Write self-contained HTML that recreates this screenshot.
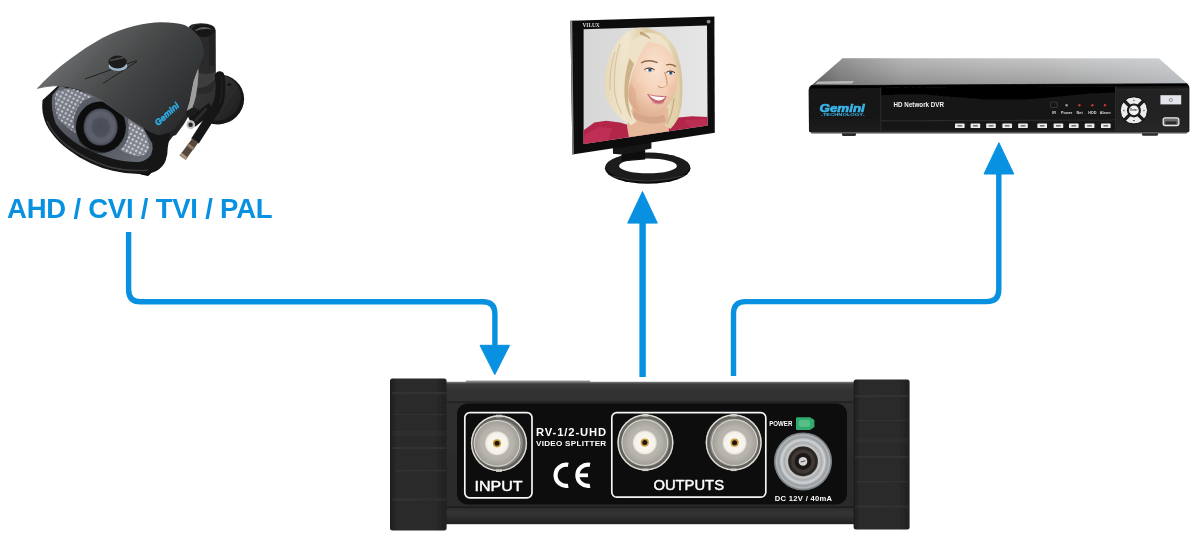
<!DOCTYPE html>
<html>
<head>
<meta charset="utf-8">
<title>RV-1/2-UHD video splitter connection diagram</title>
<style>
  html, body { margin: 0; padding: 0; background: #ffffff; }
  body { width: 1200px; height: 547px; overflow: hidden; font-family: "Liberation Sans", sans-serif; }
  svg { display: block; position: absolute; left: 0; top: 0; will-change: transform; }
  text { font-family: "Liberation Sans", sans-serif; }
</style>
</head>
<body>
<svg width="1200" height="547" viewBox="0 0 1200 547">
  <defs>

    <linearGradient id="capL" x1="0" y1="0" x2="1" y2="0">
      <stop offset="0" stop-color="#1c1c1c"/><stop offset="0.12" stop-color="#2b2b2b"/><stop offset="0.8" stop-color="#2a2a2a"/><stop offset="1" stop-color="#202020"/>
    </linearGradient>
    <linearGradient id="bodyG" x1="0" y1="0" x2="0" y2="1">
      <stop offset="0" stop-color="#3f3f3f"/><stop offset="0.05" stop-color="#333333"/><stop offset="0.14" stop-color="#2f2f2f"/><stop offset="0.86" stop-color="#2a2a2a"/><stop offset="0.93" stop-color="#333333"/><stop offset="1" stop-color="#202020"/>
    </linearGradient>
    <radialGradient id="bncOuter" cx="0.5" cy="0.5" r="0.5">
      <stop offset="0" stop-color="#b9b6ae"/><stop offset="0.55" stop-color="#a9a69d"/><stop offset="0.72" stop-color="#c9c7c0"/><stop offset="0.86" stop-color="#8e8b84"/><stop offset="0.95" stop-color="#d3d1ca"/><stop offset="1" stop-color="#6b6964"/>
    </radialGradient>
    <radialGradient id="bncMid" cx="0.5" cy="0.5" r="0.5">
      <stop offset="0" stop-color="#bfbcb5"/><stop offset="0.7" stop-color="#b7b4ad"/><stop offset="1" stop-color="#a29f98"/>
    </radialGradient>
    <radialGradient id="bncWhite" cx="0.5" cy="0.5" r="0.5">
      <stop offset="0" stop-color="#fbf9f3"/><stop offset="0.85" stop-color="#f5f2ea"/><stop offset="1" stop-color="#d9d6cd"/>
    </radialGradient>
    <radialGradient id="dcOuter" cx="0.5" cy="0.5" r="0.5">
      <stop offset="0" stop-color="#808080"/><stop offset="0.5" stop-color="#909090"/><stop offset="0.56" stop-color="#c9c9c9"/><stop offset="0.66" stop-color="#a9acae"/><stop offset="0.76" stop-color="#d2d4d6"/><stop offset="0.86" stop-color="#979c9f"/><stop offset="0.94" stop-color="#b2b7ba"/><stop offset="1" stop-color="#6f7579"/>
    </radialGradient>
    <g id="bncO">
      <circle r="28.2" fill="#8b8983"/>
      <circle r="27.3" fill="none" stroke="#e2e0da" stroke-width="1.3"/>
      <circle r="25.2" fill="none" stroke="#5b5955" stroke-width="2.6" opacity="0.85"/>
      <rect x="-3" y="-28.6" width="6" height="2.6" fill="#cfcdc6"/>
      <rect x="-3" y="26" width="6" height="2.6" fill="#cfcdc6"/>
    </g>
    <g id="bncI">
      <circle r="23.4" fill="#dad8d1"/>
      <circle r="22.4" fill="url(#bncMid)"/>
      <circle r="12" fill="url(#bncWhite)"/>
      <circle r="4.1" fill="#c79c3c"/>
      <circle r="2.5" fill="#24190a"/>
    </g>

    <linearGradient id="hoodG" gradientUnits="userSpaceOnUse" x1="78" y1="30" x2="188" y2="128">
      <stop offset="0" stop-color="#6e7071"/><stop offset="0.22" stop-color="#57595a"/><stop offset="0.45" stop-color="#454748"/><stop offset="0.7" stop-color="#37393a"/><stop offset="1" stop-color="#28292a"/>
    </linearGradient>
    <radialGradient id="lensG" cx="0.5" cy="0.5" r="0.5">
      <stop offset="0" stop-color="#4c505a"/><stop offset="0.45" stop-color="#565a65"/><stop offset="0.8" stop-color="#5e626d"/><stop offset="1" stop-color="#454852"/>
    </radialGradient>
    <linearGradient id="faceG" x1="0" y1="0" x2="1" y2="1">
      <stop offset="0" stop-color="#6a6e78"/><stop offset="0.5" stop-color="#4c4f58"/><stop offset="1" stop-color="#6b6f79"/>
    </linearGradient>
    <linearGradient id="baseG" x1="0" y1="0" x2="1" y2="1">
      <stop offset="0" stop-color="#3c3c3c"/><stop offset="0.6" stop-color="#2c2c2c"/><stop offset="1" stop-color="#1b1b1b"/>
    </linearGradient>
    <pattern id="ledP" width="4.2" height="4.2" patternUnits="userSpaceOnUse" patternTransform="rotate(28)">
      <circle cx="2.1" cy="2.1" r="1.25" fill="#d9dce4"/>
    </pattern>

    <clipPath id="scrClip"><path d="M583.6 29.2 L707 25.6 L707.6 125.4 L583.6 144 Z"/></clipPath>
    <linearGradient id="hairG" x1="0" y1="0" x2="1" y2="0">
      <stop offset="0" stop-color="#e6d9bb"/><stop offset="0.3" stop-color="#f1e7d0"/><stop offset="0.55" stop-color="#d9c6a0"/><stop offset="0.8" stop-color="#e7d9b8"/><stop offset="1" stop-color="#d6c29c"/>
    </linearGradient>
    <radialGradient id="faceRG" cx="0.55" cy="0.35" r="0.7">
      <stop offset="0" stop-color="#fae4d2"/><stop offset="0.55" stop-color="#f3cfb5"/><stop offset="1" stop-color="#dcab8b"/>
    </radialGradient>
    <linearGradient id="scrBg" x1="0" y1="0" x2="1" y2="0">
      <stop offset="0" stop-color="#d6d6d6"/><stop offset="1" stop-color="#e6e6e6"/>
    </linearGradient>

    <linearGradient id="dvrTop" x1="0" y1="0" x2="0" y2="1">
      <stop offset="0" stop-color="#c8c8c8"/><stop offset="0.45" stop-color="#b2b2b2"/><stop offset="0.82" stop-color="#9e9e9e"/><stop offset="0.9" stop-color="#7a7a7a"/><stop offset="0.95" stop-color="#3a3a3a"/><stop offset="1" stop-color="#161616"/>
    </linearGradient>
    <linearGradient id="dvrTopL" x1="0" y1="0" x2="1" y2="0">
      <stop offset="0" stop-color="#202020" stop-opacity="0.52"/><stop offset="0.08" stop-color="#2a2a2a" stop-opacity="0.34"/><stop offset="0.25" stop-color="#333" stop-opacity="0.12"/><stop offset="0.5" stop-color="#444" stop-opacity="0.04"/><stop offset="0.7" stop-color="#d0d6dc" stop-opacity="0.1"/><stop offset="1" stop-color="#d4dae0" stop-opacity="0.5"/>
    </linearGradient>
    <linearGradient id="dvrFront" x1="0" y1="0" x2="0" y2="1">
      <stop offset="0" stop-color="#1a1a1a"/><stop offset="0.2" stop-color="#111111"/><stop offset="0.9" stop-color="#141414"/><stop offset="1" stop-color="#2a2a2a"/>
    </linearGradient>
    <linearGradient id="dvrGloss" x1="0" y1="0" x2="0" y2="1">
      <stop offset="0" stop-color="#050505"/><stop offset="1" stop-color="#0e0e0e"/>
    </linearGradient>
    <g id="dbtn"><rect width="9.6" height="4.4" rx="0.6" fill="#ececec"/><rect x="2.4" y="1.6" width="4.8" height="1.3" fill="#555"/></g>

    <filter id="soft" x="-5%" y="-5%" width="110%" height="110%"><feGaussianBlur stdDeviation="0.5"/></filter>
    <filter id="soft2" x="-5%" y="-5%" width="110%" height="110%"><feGaussianBlur stdDeviation="0.35"/></filter>
    <!-- DEFS -->
  </defs>
  <rect x="0" y="0" width="1200" height="547" fill="#ffffff"/>

  <!-- ============ CONNECTION LINES ============ -->
  <g id="lines" fill="none" stroke="#0791e0" stroke-width="5.4" stroke-linejoin="round">
    <!-- camera -> input -->
    <path d="M128.6 232 V289.7 Q128.6 301.8 140.7 301.8 H482.8 Q494.9 301.8 494.9 313.9 V346"/>
    <!-- output 1 -> monitor -->
    <path d="M642.6 377 V222" stroke-width="6.4"/>
    <!-- output 2 -> DVR -->
    <path d="M733.5 376 V313.7 Q733.5 301.6 745.6 301.6 H986.7 Q998.8 301.6 998.8 289.5 V173"/>
  </g>
  <g id="arrowheads" fill="#0791e0" stroke="#0791e0" stroke-width="1" stroke-linejoin="round">
    <path d="M480 345.3 H509.6 L494.8 374.6 Z"/>
    <path d="M627.7 223.1 H657.3 L642.5 191.6 Z"/>
    <path d="M984 174 H1013.8 L998.9 142.7 Z"/>
  </g>

  <!-- ============ LABEL ============ -->
  <text id="lbl" x="7" y="217.6" font-size="27.5" font-weight="bold" fill="#0791e0" textLength="265.6" lengthAdjust="spacing">AHD / CVI / TVI / PAL</text>


  <g id="camera" filter="url(#soft)">
    <!-- wall base disc -->
    <ellipse cx="218" cy="99.4" rx="26.2" ry="25" transform="rotate(-12 218 99.4)" fill="#161616"/>
    <ellipse cx="216.4" cy="97.6" rx="24.6" ry="23.2" transform="rotate(-12 216.4 97.6)" fill="url(#baseG)"/>
    <ellipse cx="229.4" cy="84.6" rx="2" ry="1.4" fill="#121212"/>
    <!-- post -->
    <path d="M188.5 28 Q189 23.5 201 23.2 Q214.5 23.6 215.4 29 L215.6 78 Q214 90 200 91 L190 88 Z" fill="#2b2b2b"/>
    <path d="M209 30 L215.5 30 L215.6 78 L209 84 Z" fill="#242424"/>
    <ellipse cx="203.2" cy="30.6" rx="11.4" ry="6.4" fill="#141414"/>
    <path d="M194 31 Q203 23.6 213.6 30 Q206 27.6 194 31Z" fill="#5e5e5e"/>
    <!-- neck joint between camera and post -->
    <path d="M192 62 L214 66 Q217 80 213 90 Q204 97 192 92 Z" fill="#2a2a2a"/>
    <path d="M196 72 Q206 76 215 72 L215.4 79 Q206 90 194 88 Z" fill="#3c3c3c"/>
    <!-- camera body back plate / body below hood -->
    <path d="M186 70 L198 70 L196 96 L191 112 L184 124 L176 135 L160 140 L150 128 Z" fill="#262728"/>
    <path d="M198 66 L198.6 72 Q198 85 196 96 Q194.4 104 191 110 L186 111 Q190 101 191.6 90 Q193 80 196.6 72 Z" fill="#9e9e9e"/>
    <path d="M150 128 L186 108 L182 123 L175.4 133 L167 144 L165 156 L157 167 L148.5 175.6 L140 174 Z" fill="#222324"/>
    <path d="M142 168 L150 166 L152 172 L148 176 L141 174.5 Z" fill="#0f0f0f"/>
    <!-- cables -->
    <path d="M219.6 76 Q221.8 90 218.8 102 Q216 110 209 117" fill="none" stroke="#131313" stroke-width="9.6" stroke-linecap="round"/>
    <path d="M185 112 L193.4 107 L199 110 L190 120 Z" fill="#1c1c1c"/>
    <path d="M212 107 L192 122.6" fill="none" stroke="#141414" stroke-width="10.4" stroke-linecap="butt"/>
    <path d="M215 110 L195 141" fill="none" stroke="#171717" stroke-width="9" stroke-linecap="butt"/>
    <path d="M221.6 76 Q223 92 220 103" fill="none" stroke="#2e2e2e" stroke-width="1" opacity="0.8"/>
    <path d="M206 109 L196 120" fill="none" stroke="#2c2c2c" stroke-width="3" stroke-linecap="round"/>
    <path d="M195.4 140.4 L182.6 157.6" fill="none" stroke="#54463a" stroke-width="7.4" stroke-linecap="butt"/>
    <path d="M191.6 145.6 L189.8 148" fill="none" stroke="#8f7c68" stroke-width="7.8"/>
    <path d="M184.6 155 L182.6 157.6" fill="none" stroke="#a8957c" stroke-width="8"/>
    <circle cx="190.8" cy="124.6" r="4.3" fill="#bdbdbd"/>
    <circle cx="190.6" cy="124.8" r="2.3" fill="#262626"/>
    <!-- front ring -->
    <path d="M42.6 100 Q41.5 110 43.7 117 Q46 126 51.3 132.4 Q58 142 68.9 150 Q79 158 90.8 163.2 Q101 168 112.8 170.8 Q126 174 139.1 174.1 Q150 174.5 156.7 170.8 Q163 167 165.5 161 Q168 154 167.7 147.8 L170 134 L120 100 L60 84 Z" fill="#121314"/>
    <path d="M47 121 Q52 133 66 145 Q84 159 108 166.6 Q130 172 148 170" fill="none" stroke="#3e3f40" stroke-width="1.6" opacity="0.9"/>
    <!-- inner LED face -->
    <path d="M52.4 95 Q50 108 55.7 123.6 Q64 136 79.9 145.6 Q95 154 112.8 158.8 Q127 162.5 139.1 162 Q148 160 151.2 154.4 Q153.5 149 152.3 143.4 L143.5 128 L100 98 L60 86 Z" fill="url(#faceG)"/>
    <path d="M56 92 Q53 105 58 118 Q66 128 76 133 Q70 118 80 104 Q88 96 100 96 L70 88 Z" fill="#8e929c" opacity="0.55"/>
    <path d="M56 92 Q53 105 58 118 Q66 128 76 133 Q70 118 80 104 Q88 96 100 96 L70 88 Z" fill="url(#ledP)" opacity="0.8"/>
    <path d="M120 150 Q131 156 141 156 Q148 154 149 147 Q149 140 143.5 130 L128 118 Q130 130 127 140 Q125 146 120 150Z" fill="#9a9ea8" opacity="0.55"/>
    <path d="M120 150 Q131 156 141 156 Q148 154 149 147 Q149 140 143.5 130 L128 118 Q130 130 127 140 Q125 146 120 150Z" fill="url(#ledP)" opacity="0.85"/>
    <!-- lens -->
    <ellipse cx="100.9" cy="127.2" rx="25" ry="25.8" fill="#0f1011"/>
    <ellipse cx="100.6" cy="127" rx="17" ry="18.6" fill="url(#lensG)"/>
    <ellipse cx="100.8" cy="127.4" rx="9" ry="10" fill="#474b55" opacity="0.6"/>
    <path d="M79 141 Q88 152 103 153" fill="none" stroke="#333436" stroke-width="1.2"/>
    <!-- hood -->
    <path d="M37 88.4 Q52 72 69.4 59.4 Q85 47.5 102.3 38 Q118 30 135.2 25.8 Q149 22.4 161.6 22.3 Q175 22.4 184.6 25 Q193 29 199.4 37 Q204.5 46 203.4 56 Q201 64 196.6 72 Q193 80 191.6 90 Q190 101 187 110 Q183 119 178 125.2 Q172.5 131.5 166.5 133.6 Q162 135.6 156.7 134.7 Q150 133 143.5 128 Q133 122 123.8 116 Q112 107.5 101.8 100.6 Q90 94 79.9 89.6 Q66 85.6 53.5 85.8 Q44 86.6 37 88.4 Z" fill="url(#hoodG)"/>
    <path d="M37 88.4 Q44 86.6 53.5 85.8 Q66 85.6 79.9 89.6 Q90 94 101.8 100.6 Q112 107.5 123.8 116 L143.5 128" fill="none" stroke="#5d5f60" stroke-width="0.9" opacity="0.8"/>
    <!-- hood lines + knob -->
    <path d="M85 79 L136.5 60.6 M103 83.5 L137 61.5" stroke="#1f2021" stroke-width="1" fill="none"/>
    <ellipse cx="118" cy="66" rx="9.4" ry="5" fill="#9db7cc"/>
    <ellipse cx="117.6" cy="62" rx="9.2" ry="6.4" fill="#1d1e1f"/>
    <path d="M110 60.5 L124 57.5" stroke="#4a4b4c" stroke-width="1.4"/>
    <!-- logo -->
    <text x="0" y="0" transform="translate(158 126.2) rotate(-42.5)" font-size="8.7" font-weight="bold" font-style="italic" fill="#2cb0ea" stroke="#2cb0ea" stroke-width="0.45">Gemini</text>
  </g>


  <g id="monitor" filter="url(#soft2)">
    <!-- stand ring -->
    <ellipse cx="647.7" cy="168.2" rx="42.8" ry="15.6" fill="#0e0e0e"/>
    <ellipse cx="647.7" cy="166.8" rx="42.2" ry="13.8" fill="#1d1d1d"/>
    <path d="M612 176 Q646 186.4 684 175.6" fill="none" stroke="#4a4a4a" stroke-width="0.9" opacity="0.8"/>
    <ellipse cx="648" cy="165.9" rx="28.9" ry="7.4" fill="#ffffff"/>
    <path d="M612.8 146 L651.4 140 L651.4 148.6 L645.2 149.8 L645.2 159.4 L621.6 161.4 L621.6 154.6 L613 153.8 Z" fill="#121212"/>
    <path d="M622 155 L645 151.6 L645 158.6 Q633 157 622 161 Z" fill="#0a0a0a"/>
    <!-- bezel -->
    <path d="M570.4 20.8 L714.4 16.4 L714.8 132.8 L572.4 154.6 Z" fill="#111111"/>
    <path d="M570.4 20.8 L572.2 20.8 L573.8 154.2 L572.4 154.6 Z" fill="#8a8a8a"/>
    
    <!-- screen -->
    <g clip-path="url(#scrClip)">
      <rect x="580" y="20" width="130" height="130" fill="url(#scrBg)"/>
      <!-- shirt -->
      <path d="M580 133 L594.3 122.6 L606 120.8 L620 122.4 L628 125 L640 134 L664 132 L672 122 L678.5 117.6 L691.7 116.2 L710 117 L710 150 L580 150 Z" fill="#b2254a"/>
      <path d="M580 138 L598 127 L612 128 L606 146 L580 148 Z" fill="#c8395c" opacity="0.55"/>
      <path d="M684 120 L706 119 L707 126 L690 128 Z" fill="#c8395c" opacity="0.45"/>
      <!-- hair back -->
      <path d="M639.2 27.6 Q632 28.6 626.2 33 Q619.6 38 615.1 45.1 Q610.6 52.6 608 61.2 Q605.4 69 604.4 77.3 Q603.8 86 605 93.4 Q606.6 100 610 105.5 Q613.6 111 618.1 115.5 Q622 119.6 626.2 122.6 L631 125.6 L640 120 L660 124 L664.4 125.6 L670.4 128.8 Q674.6 125 677.5 119.6 Q680.2 113 681.5 105.5 Q682.6 96 682.5 85.4 Q682.2 75 680.5 65.2 Q678.6 56.6 675.5 49.1 Q671.6 42 666.4 37 Q661 32.4 654.3 30 Q647 27.4 639.2 27.6 Z" fill="url(#hairG)"/>
      <!-- neck -->
      <path d="M634 102 L668 108 L669 134 L629 138 L627 126 Z" fill="#e6b99b"/>
      <path d="M634 110 Q646 120.6 664 114.6 L666 121.6 Q648 127.6 632 117 Z" fill="#c9977a" opacity="0.55"/>
      <!-- face -->
      <path d="M649 42 Q640.6 49 636.2 63.2 Q631.6 74 630.2 81.3 Q627.6 88 627.4 93.4 Q628 100 631.2 105.5 Q635 110.6 640.2 113.5 Q647 117.2 654.3 116.4 Q661 113.6 666.4 107.5 Q671.6 100.6 675.5 91.4 Q677.8 84 677.5 75.3 Q677 67 674.4 59.2 Q672 53 669.4 48.6 Q660 41 649 42 Z" fill="url(#faceRG)"/>
      <path d="M631 83 Q628 92 629.6 100 Q633 108 640.2 113.5 Q635.6 103 636 92 Z" fill="#d49f80" opacity="0.35"/>
      <ellipse cx="641" cy="88" rx="6" ry="5" fill="#efb59c" opacity="0.15"/>
      <ellipse cx="671" cy="88" rx="3.6" ry="4.6" fill="#efb59c" opacity="0.28"/>
      <!-- hair front sweeps -->
      <path d="M643.3 33 Q634 38 628 50 Q622 63 619.6 80 Q618 97 621.6 110 Q625 119 631 125.6 L636.6 121.6 Q631 114 629 104 Q627 93.4 629.4 82 Q632 72 636.2 63.2 Q640 52 648.6 42 Q658 42.6 664 46.6 Q669 50 672.6 56.6 Q669 42 660 35.6 Q652 31.4 643.3 33 Z" fill="#eee3c9"/>
      <path d="M629.4 58 Q623.6 76 624.4 96 Q625.6 110 632 120 Q627.6 106 628 92 Q628.6 78 634 64 Z" fill="#bfa172" opacity="0.75"/>
      <path d="M615 52 Q609 70 610 90 M620 44 Q613 64 614.6 92 Q616 104 622 114" fill="none" stroke="#cdb489" stroke-width="0.9" opacity="0.8"/>
      <path d="M672.6 54 Q677.6 64 679.4 78 Q680.6 94 678.6 108 Q676 121 670.4 128.8 L664.4 125.6 Q670 118 672.6 106 Q675.6 96 675.5 91.4 Q678 82 677.4 73 Q676.6 63 672.6 54 Z" fill="#e3d1a9"/>
      <path d="M674 98 Q673 112 667 124" fill="none" stroke="#bfa172" stroke-width="1.1" opacity="0.8"/>
      <path d="M640 31.6 Q647 33 651 39.6 Q647 37 640 34.6 Z" fill="#b0905e" opacity="0.7"/>
      <!-- eyebrows -->
      <path d="M641 63 Q648 58.8 657.6 62.6" stroke="#8b6746" stroke-width="1.4" fill="none"/>
      <path d="M666 65 Q671 63 676 66.6" stroke="#8b6746" stroke-width="1.3" fill="none"/>
      <!-- eyes -->
      <ellipse cx="649.4" cy="69.8" rx="4.9" ry="2.5" fill="#d8a98c" opacity="0.7"/>
      <ellipse cx="649.4" cy="70" rx="4.3" ry="1.8" fill="#f6f1ec"/>
      <circle cx="650" cy="69.9" r="1.85" fill="#4f7397"/>
      <circle cx="650" cy="69.9" r="0.8" fill="#1d2733"/>
      <path d="M644.4 69.6 Q649.4 66.4 654.6 69.8" stroke="#4a3324" stroke-width="1" fill="none"/>
      <ellipse cx="670.6" cy="72.8" rx="4.3" ry="2.4" fill="#d8a98c" opacity="0.7"/>
      <ellipse cx="670.6" cy="73" rx="3.8" ry="1.7" fill="#f6f1ec"/>
      <circle cx="670.8" cy="72.9" r="1.75" fill="#4f7397"/>
      <circle cx="670.8" cy="72.9" r="0.8" fill="#1d2733"/>
      <path d="M666.4 72.4 Q670.6 69.6 675 72.8" stroke="#4a3324" stroke-width="1" fill="none"/>
      <!-- nose -->
      <path d="M664.4 72 Q667.6 80 667 85 Q664.6 88.2 660.4 87.4 Q658.6 87 658.2 85.6" stroke="#cf987a" stroke-width="1.1" fill="none"/>
      <ellipse cx="663.6" cy="84.6" rx="3" ry="2.2" fill="#f7d9c4" opacity="0.8"/>
      <!-- mouth -->
      <path d="M647 94 Q656.6 96.6 666.6 96 Q664.6 103.6 658.6 104 Q651.6 102.6 647 94 Z" fill="#c66572"/>
      <path d="M649 95 Q657 97.4 665.4 96.8 Q663 100.6 658 100.4 Q652.6 99.4 649 95 Z" fill="#fdfbf8"/>
      <path d="M652 102 Q658 105.6 663.6 102.6" stroke="#d98a90" stroke-width="1.2" fill="none" opacity="0.8"/>
    </g>
    <text x="582.4" y="27" font-family="Liberation Serif, serif" font-size="5.4" font-weight="bold" fill="#d8d8d8" style="font-family:'Liberation Serif',serif">VILUX</text>
    <circle cx="708.6" cy="21.6" r="1.9" fill="#8c8c8c"/>
  </g>


  <g id="dvr" filter="url(#soft2)">
    <!-- feet -->
    <rect x="842" y="131.4" width="14" height="4.6" rx="1.6" fill="#2a2a2a"/>
    <rect x="1142" y="131.4" width="16" height="4.4" rx="1.6" fill="#2a2a2a"/>
    <!-- top face -->
    <path d="M842.6 58.2 L1159 58.4 L1187 83.4 Q1189 85 1189 88 L809 90 Q809 87 811.4 85.4 Z" fill="url(#dvrTop)"/>
    <path d="M842.6 58.2 L1159 58.4 L1187 83.4 Q1189 85 1189 88 L809 90 Q809 87 811.4 85.4 Z" fill="url(#dvrTopL)"/>
    <path d="M818 81.4 L854 81 L852 83.6 L815.6 84 Z" fill="#cfcfcf" opacity="0.75"/>
    <!-- front -->
    <path d="M811 85.2 L1187 83.2 Q1189.4 85 1189.4 89 L1189.4 131.6 L1186 133.2 L812 133.2 L809 131.4 L808.6 90 Q808.8 86.6 811 85.2 Z" fill="url(#dvrFront)"/>
    <path d="M812 85.6 L1186.6 83.8 L1188 86 L810 88.4 Z" fill="#050505"/>
    <rect x="811" y="132" width="376" height="1.6" fill="#6f6f6f" opacity="0.7"/>
    <path d="M1116.4 88.6 L1188.6 88.2 L1188.6 131.4 L1116.4 131.4 Z" fill="#282828" opacity="0.85"/>
    <path d="M809.4 91 L880 90.6 L880 131.4 L809.6 131.4 Z" fill="#1c1c1c" opacity="0.7"/>
    <!-- glossy centre panel -->
    <path d="M881 87.4 L1115 86.6 L1115 119.4 L881 120.2 Z" fill="#161616"/>
    <path d="M881 87.4 L1115 86.6 L1115 92.6 Q1090 93 1060 96.6 Q1020 101 985 99.4 Q950 97 925 94.6 Q900 94 881 95.2 Z" fill="#030303"/>
    <path d="M881 120.2 L1115 119.4 L1115 120.6 L881 121.4Z" fill="#2c2c2c"/>
    <path d="M1115 86.6 L1116.4 86.6 L1116.4 131 L1115 131 Z" fill="#2b2b2b"/>
    <path d="M880 87.4 L881.4 87.4 L881.4 131 L880 131 Z" fill="#262626"/>
    <!-- logo -->
    <text x="819.6" y="112.2" font-size="10.4" font-weight="bold" font-style="italic" fill="#3ab6ea" stroke="#3ab6ea" stroke-width="0.55" textLength="45.2" lengthAdjust="spacingAndGlyphs">Gemini</text>
    <text x="821" y="116.4" font-size="2.9" font-weight="bold" fill="#3ab6ea" textLength="43.6" lengthAdjust="spacingAndGlyphs">-TECHNOLOGY-</text>
    <text x="893.6" y="107.2" font-size="6.6" font-weight="bold" fill="#f2f2f2" textLength="50.4" lengthAdjust="spacingAndGlyphs">HD Network DVR</text>
    <!-- button row -->
    <use href="#dbtn" x="955" y="123.6"/><use href="#dbtn" x="970.6" y="123.6"/><use href="#dbtn" x="986.2" y="123.6"/><use href="#dbtn" x="1002.4" y="123.6"/><use href="#dbtn" x="1018.2" y="123.6"/>
    <use href="#dbtn" x="1037.4" y="123.6"/><use href="#dbtn" x="1053.6" y="123.6"/><use href="#dbtn" x="1069" y="123.6"/><use href="#dbtn" x="1084.8" y="123.6"/><use href="#dbtn" x="1101" y="123.6"/>
    <!-- leds + labels -->
    <rect x="1050.6" y="102" width="6.6" height="5.6" rx="1" fill="none" stroke="#444" stroke-width="0.8"/>
    <circle cx="1066.6" cy="105.2" r="1.2" fill="#9a9a9a"/>
    <circle cx="1079.4" cy="105.2" r="1.2" fill="#c0383c"/>
    <circle cx="1092.4" cy="105.2" r="1.2" fill="#c0383c"/>
    <circle cx="1105" cy="105.2" r="1.2" fill="#c0383c"/>
    <g font-size="3.8" font-weight="bold" fill="#d8d8d8" text-anchor="middle">
      <text x="1054.2" y="113.8">IR</text><text x="1066.6" y="113.8">Power</text><text x="1079.6" y="113.8">Net</text><text x="1092.4" y="113.8">HDD</text><text x="1105.2" y="113.8">Alarm</text>
    </g>
    <!-- d-pad -->
    <circle cx="1133.9" cy="110.4" r="13.4" fill="#ececec"/>
    <path d="M1124 100.5 L1143.8 120.3 M1143.8 100.5 L1124 120.3" stroke="#1a1a1a" stroke-width="3.2"/>
    <circle cx="1133.9" cy="110.4" r="7" fill="#1a1a1a"/>
    <circle cx="1133.9" cy="110.4" r="4.9" fill="#f4f4f4"/>
    <circle cx="1133.9" cy="110.4" r="13.6" fill="none" stroke="#111" stroke-width="1"/>
    <text x="1133.9" y="111.3" font-size="2.9" font-weight="bold" fill="#444" text-anchor="middle">Enter</text>
    <path d="M1133.9 99.4 l-1 1.4 h2 Z M1133.9 121.4 l-1 -1.4 h2 Z M1122.9 110.4 l1.4 -1 v2 Z M1144.9 110.4 l-1.4 -1 v2 Z" fill="#333"/>
    <!-- power button -->
    <rect x="1160.4" y="95.2" width="20.8" height="9.2" fill="#e3e4ec"/>
    <circle cx="1170.8" cy="100" r="1.6" fill="none" stroke="#666" stroke-width="0.6"/>
    <!-- usb -->
    <rect x="1163.2" y="117.8" width="15.6" height="7.8" rx="2" fill="#6e6e6e" stroke="#e9e9e9" stroke-width="1.3"/>
    <rect x="1165.4" y="121.4" width="11" height="2.6" fill="#2a2a2a"/>
  </g>


  <g id="splitter" filter="url(#soft2)">
    <!-- small grey ledge on top -->
    <rect x="466" y="380.6" width="124" height="3.4" fill="#8f8f8f"/>
    <rect x="446" y="381.8" width="408" height="2" fill="#6c6c6c"/>
    <!-- body -->
    <rect x="444" y="383.2" width="412" height="141" fill="url(#bodyG)"/>
    <rect x="446" y="401.5" width="408" height="1.2" fill="#1d1d1d"/>
    <rect x="446" y="506.5" width="408" height="1.2" fill="#1a1a1a"/>
    <!-- end caps -->
    <rect x="390" y="378.4" width="56.6" height="152" rx="2.5" fill="url(#capL)"/>
    <rect x="853.6" y="379.4" width="56" height="150" rx="2.5" fill="url(#capL)"/>
    <g fill="#363636" opacity="0.7">
      <rect x="392" y="392" width="54" height="2.4"/>
      <rect x="394" y="414" width="50" height="1.2"/>
      <rect x="392" y="431" width="54" height="5" opacity="0.5"/>
      <rect x="392" y="447" width="54" height="2"/>
      <rect x="395" y="470" width="51" height="1.4"/>
      <rect x="392" y="498" width="54" height="3" opacity="0.7"/>
      <rect x="855" y="395" width="53" height="2.4"/>
      <rect x="856" y="420" width="50" height="1.2"/>
      <rect x="855" y="438" width="53" height="5" opacity="0.5"/>
      <rect x="855" y="456" width="53" height="2"/>
      <rect x="857" y="481" width="50" height="1.4"/>
      <rect x="855" y="505" width="53" height="3" opacity="0.7"/>
    </g>
    <!-- black label panel -->
    <rect x="457" y="403.4" width="390" height="101" rx="11" fill="#0b0b0b"/>
    <!-- INPUT box -->
    <rect x="464.8" y="412.6" width="67.2" height="85.2" rx="5" fill="none" stroke="#f6f6f6" stroke-width="1.7"/>
    <!-- OUTPUTS box -->
    <rect x="611.8" y="412.6" width="154" height="84.6" rx="5" fill="none" stroke="#f6f6f6" stroke-width="1.7"/>
    <use href="#bncO" x="499" y="443.3"/><use href="#bncI" x="497" y="443.3"/>
    <use href="#bncO" x="645.4" y="442.5"/><use href="#bncI" x="644.8" y="442.6"/>
    <use href="#bncO" x="733.7" y="442.5"/><use href="#bncI" x="734.6" y="442.7"/>
    <text id="tIn" x="474.6" y="491" font-size="14.6" fill="#ffffff" stroke="#ffffff" stroke-width="0.45" textLength="48" lengthAdjust="spacingAndGlyphs">INPUT</text>
    <text id="tOut" x="653.4" y="490.4" font-size="14.6" fill="#ffffff" stroke="#ffffff" stroke-width="0.45" textLength="70.6" lengthAdjust="spacingAndGlyphs">OUTPUTS</text>
    <text id="tRv" x="536" y="436.2" font-size="11.2" font-weight="bold" fill="#ffffff" textLength="70.2" lengthAdjust="spacing">RV-1/2-UHD</text>
    <text id="tVs" x="536" y="446.2" font-size="8.1" font-weight="bold" fill="#ffffff" textLength="70.2" lengthAdjust="spacing">VIDEO SPLITTER</text>
    <!-- CE mark -->
    <g fill="none" stroke="#ffffff" stroke-width="4.2">
      <path d="M568.2 464.9 A10.6 10.6 0 1 0 568.2 485.7"/>
      <path d="M590 464.9 A10.6 10.6 0 1 0 590 485.7"/>
      <path d="M577 475.3 H588" stroke-width="3.8"/>
    </g>
    <!-- power -->
    <text id="tPw" x="769.2" y="426.4" font-size="6.5" font-weight="bold" fill="#ffffff" textLength="23.2" lengthAdjust="spacingAndGlyphs">POWER</text>
    <path d="M797 417.2 H810 L814.4 420 V427 L810 430 H797 Q796 430 796 429 V418.2 Q796 417.2 797 417.2 Z" fill="#33ab6e"/>
    <rect x="799" y="420" width="11" height="7" rx="2" fill="#5fc48d" opacity="0.8"/>
    <!-- DC jack -->
    <circle cx="803" cy="461.4" r="29" fill="#7f868a"/>
    <circle cx="803" cy="461.4" r="28.3" fill="url(#dcOuter)"/>
    <circle cx="803" cy="461.4" r="14.8" fill="#2c2724"/>
    <circle cx="803" cy="461.4" r="12" fill="#3f3834"/>
    <circle cx="803" cy="461.4" r="8.4" fill="#1c1917"/>
    <circle cx="803" cy="461.4" r="4.3" fill="#d6d6d6"/>
    <rect x="800.6" y="460.8" width="4.8" height="1.2" fill="#555" transform="rotate(-15 803 461.4)"/>
    <text id="tDc" x="803.6" y="500.8" font-size="7.6" font-weight="bold" fill="#ffffff" text-anchor="middle" letter-spacing="0.3">DC 12V / 40mA</text>
  </g>

</svg>
</body>
</html>
